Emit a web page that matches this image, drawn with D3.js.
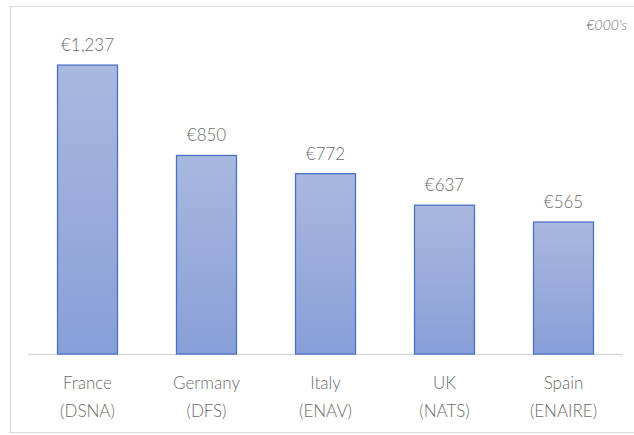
<!DOCTYPE html>
<html lang="en">
<head>
    <meta charset="UTF-8">
    <title>Cost by ANSP</title>
    <style>
        body {
            margin: 0;
            padding: 0;
            background-color: #fff;
            font-family: Lato, "Open Sans", Arial, sans-serif;
        }
        svg text {
            fill: #6b6b6b;
            font-weight: 300;
        }
    </style>
</head>
<body>

<svg width="634" height="435" id="chart"></svg>

<script src="https://d3js.org/d3.v7.min.js"></script>
<script>
    const countries = ["France", "Germany", "Italy", "UK", "Spain"];
    const providers = ["(DSNA)", "(DFS)", "(ENAV)", "(NATS)", "(ENAIRE)"];
    const values = [1237, 850, 772, 637, 565];
    const unitLabel = "€000's";

    const svg = d3.select("#chart");

    // chart frame
    svg.append("rect")
        .attr("x", 10.5)
        .attr("y", 6.5)
        .attr("width", 640)
        .attr("height", 426)
        .attr("fill", "#fff")
        .attr("stroke", "#d9d9d9");

    const margin = { top: 27, right: 11, bottom: 81, left: 28 };
    const width = 634 - margin.left - margin.right;
    const height = 435 - margin.top - margin.bottom;

    const g = svg.append("g")
        .attr("transform", `translate(${margin.left},${margin.top})`);

    const xScale = d3.scaleBand()
        .domain(countries)
        .range([0, width])
        .paddingInner(0.496)
        .paddingOuter(0.248);

    const yScale = d3.scaleLinear()
        .domain([0, 1400])
        .range([height, 0]);

    // gradient for bars
    const grad = svg.append("defs").append("linearGradient")
        .attr("id", "barGrad")
        .attr("x1", 0).attr("y1", 0)
        .attr("x2", 0).attr("y2", 1);
    grad.append("stop").attr("offset", "0%").attr("stop-color", "#a9b8df");
    grad.append("stop").attr("offset", "100%").attr("stop-color", "#889fd8");

    // baseline
    g.append("line")
        .attr("x1", 0)
        .attr("x2", width)
        .attr("y1", height + 0.5)
        .attr("y2", height + 0.5)
        .attr("stroke", "#d9d9d9")
        .attr("stroke-width", 1.5);

    // bars
    g.selectAll("rect.bar")
        .data(values)
        .enter().append("rect")
        .attr("class", "bar")
        .attr("x", (d, i) => xScale(countries[i]))
        .attr("y", d => yScale(d))
        .attr("width", xScale.bandwidth())
        .attr("height", d => height - yScale(d))
        .attr("fill", "url(#barGrad)")
        .attr("stroke", "#4a72c4")
        .attr("stroke-width", 1.3);

    // value labels
    g.selectAll("text.value")
        .data(values)
        .enter().append("text")
        .attr("class", "value")
        .attr("x", (d, i) => xScale(countries[i]) + xScale.bandwidth() / 2)
        .attr("y", d => yScale(d) - 14)
        .attr("text-anchor", "middle")
        .style("font-size", "17px")
        .text(d => "€" + d3.format(",")(d));

    // category labels
    const xAxis = g.append("g")
        .attr("transform", `translate(0,${height})`);

    xAxis.selectAll("text.country")
        .data(countries)
        .enter().append("text")
        .attr("x", d => xScale(d) + xScale.bandwidth() / 2)
        .attr("y", 35)
        .attr("text-anchor", "middle")
        .style("font-size", "17px")
        .text(d => d);

    xAxis.selectAll("text.provider")
        .data(providers)
        .enter().append("text")
        .attr("x", (d, i) => xScale(countries[i]) + xScale.bandwidth() / 2)
        .attr("y", 63)
        .attr("text-anchor", "middle")
        .style("font-size", "17px")
        .text(d => d);

    // units note
    svg.append("text")
        .attr("x", 627)
        .attr("y", 30)
        .attr("text-anchor", "end")
        .style("font-size", "14px")
        .style("font-style", "italic")
        .text(unitLabel);
</script>

</body>
</html>
